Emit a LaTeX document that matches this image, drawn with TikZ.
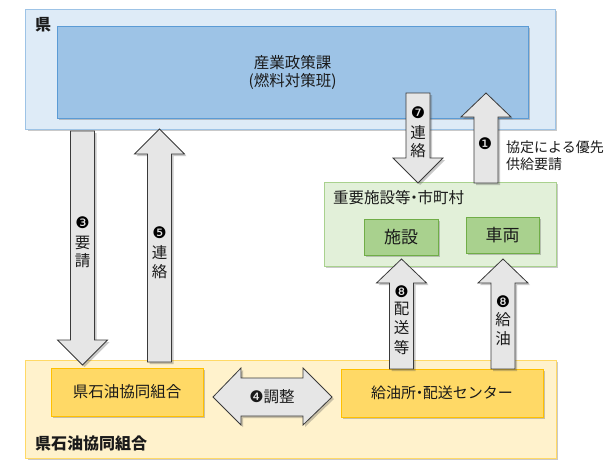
\documentclass[tikz,border=0pt]{standalone}
\usepackage{fontspec}
\setmainfont{Noto Sans CJK JP}
\newfontfamily\dingfont{DejaVu Sans}
\usetikzlibrary{shadows}
\definecolor{blueout}{HTML}{DEEBF7}
\definecolor{blueoutb}{HTML}{9DC3E6}
\definecolor{bluein}{HTML}{9DC3E6}
\definecolor{blueinb}{HTML}{5B9BD5}
\definecolor{greenout}{HTML}{E2F0D9}
\definecolor{greenoutb}{HTML}{A9D18E}
\definecolor{greenin}{HTML}{A9D18E}
\definecolor{greeninb}{HTML}{70AD47}
\definecolor{yellowout}{HTML}{FFF2CC}
\definecolor{yellowoutb}{HTML}{FFD966}
\definecolor{yellowin}{HTML}{FFD966}
\definecolor{yellowinb}{HTML}{FFC000}
\definecolor{arrfill}{HTML}{E6E6E6}
\definecolor{arrdraw}{HTML}{3A3A3A}
\definecolor{txtc}{HTML}{1A1A1A}
\newcommand\blkv[4]{\draw[arr] ({#1-12},#2) -- ({#1+12},#2) -- ({#1+12},#3) -- ({#1+25},#3) -- (#1,#4) -- ({#1-25},#3) -- ({#1-12},#3) -- cycle;}
\newcommand\ndot{\makebox[0.45em]{・}}
\begin{document}
\begin{tikzpicture}[x=1pt,y=-1pt,
  shd/.style={drop shadow={shadow xshift=2pt,shadow yshift=-2pt,opacity=0.3,fill=black!70}},
  boxx/.style={shd,rectangle,inner sep=0pt,line width=0.8pt,text=txtc,align=center,font=\fontsize{15.5}{18}\selectfont},
  arr/.style={shd,fill=arrfill,draw=arrdraw,line width=0.8pt},
  txt/.style={inner sep=0pt,text=txtc,font=\fontsize{15.5}{18}\selectfont},
  smalltxt/.style={inner sep=0pt,text=txtc,align=left,font=\fontsize{14}{17}\selectfont},
  bold/.style={inner sep=0pt,text=txtc,font=\fontsize{16}{18}\selectfont\bfseries},
  num/.style={inner sep=0pt,text=black,font=\fontsize{16}{16}\selectfont\dingfont}
]
\useasboundingbox (0,0) rectangle (609,469);
% outer boxes
\node[boxx,fill=blueout,draw=blueoutb,minimum width=529.5pt,minimum height=120pt] (ken) at (290.25,69) {};
\node[boxx,fill=bluein,draw=blueinb,minimum width=471pt,minimum height=92pt] (sangyo) at (292.5,72) {産業政策課\\(燃料対策班)};
\node[bold,anchor=west] (kenlbl) at (35,25) {県};
\node[boxx,fill=greenout,draw=greenoutb,minimum width=232pt,minimum height=84pt] (juyo) at (440,224) {};
\node[txt,anchor=west] (juyolbl) at (333,198) {重要施設等\ndot 市町村};
\node[boxx,fill=greenin,draw=greeninb,minimum width=74pt,minimum height=36pt,font=\fontsize{17}{19}\selectfont] (shisetsu) at (401,237) {施設};
\node[boxx,fill=greenin,draw=greeninb,minimum width=73pt,minimum height=36pt,font=\fontsize{17}{19}\selectfont] (sharyo) at (502.5,235) {車両};
\node[boxx,fill=yellowout,draw=yellowoutb,minimum width=530.5pt,minimum height=98pt] (kumiai) at (290.75,409) {};
\node[bold,anchor=west] (kumiailbl) at (35,443) {県石油協同組合};
\node[boxx,fill=yellowin,draw=yellowinb,minimum width=152pt,minimum height=48pt] (kenseki) at (127,392) {県石油協同組合};
\node[boxx,fill=yellowin,draw=yellowinb,minimum width=202pt,minimum height=48pt,font=\fontsize{15}{18}\selectfont] (kyuyu) at (442,393) {給油所\ndot 配送センター};
% arrows
\blkv{82.5}{131}{340}{365}
\blkv{159.5}{362}{154}{129}
\blkv{418}{93}{158}{183}
\blkv{486}{183}{117}{93}
\blkv{401.5}{369}{283}{259}
\blkv{503}{369}{283}{259}
\draw[arr] (213,397) -- (241,368) -- (241,378) -- (303,378) -- (303,368) -- (332,397) -- (303,425) -- (303,416) -- (241,416) -- (241,425) -- cycle;
% arrow labels
\node[num] (n3) at (82.5,223) {❸};
\node[txt] (n3a) at (82.5,243) {要};
\node[txt] (n3b) at (82.5,261) {請};
\node[num] (n5) at (159.5,233) {❺};
\node[txt] (n5a) at (159.5,253) {連};
\node[txt] (n5b) at (159.5,272) {絡};
\node[num] (n7) at (418,113) {❼};
\node[txt] (n7a) at (418,133) {連};
\node[txt] (n7b) at (418,151) {絡};
\node[num] (n1) at (485,144) {❶};
\node[smalltxt,anchor=west] (n1lbl) at (506,156) {協定による優先\\供給要請};
\node[num] (n8a) at (401.5,292) {❽};
\node[txt] (n8a1) at (401.5,309) {配};
\node[txt] (n8a2) at (401.5,328) {送};
\node[txt] (n8a3) at (401.5,348) {等};
\node[num] (n8b) at (503,302) {❽};
\node[txt] (n8b1) at (503,320) {給};
\node[txt] (n8b2) at (503,339) {油};
\node[txt] (n4) at (272,397) {{\dingfont\fontsize{16}{16}\selectfont ❹}調整};
\end{tikzpicture}
\end{document}
